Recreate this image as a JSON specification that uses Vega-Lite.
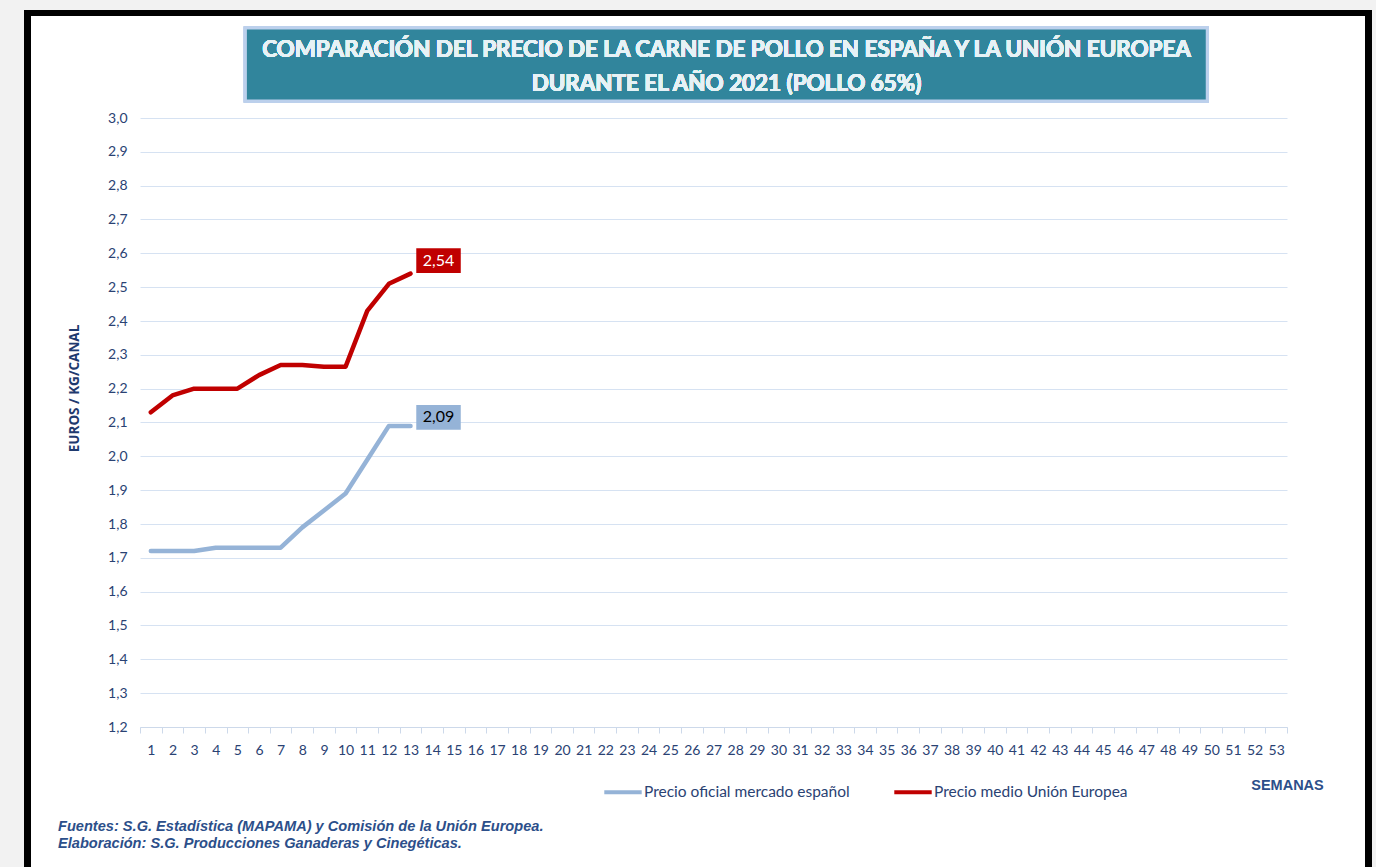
{
  "$schema": "https://vega.github.io/schema/vega-lite/v6.json",
  "width": 1147,
  "height": 609,
  "autosize": {"type": "none"},
  "padding": {"left": 140, "top": 118, "right": 89, "bottom": 140},
  "background": "white",
  "config": {
    "locale": {"number": {"decimal": ",", "thousands": ".", "grouping": [3], "currency": ["", " €"]}},
    "view": {"stroke": null},
    "font": "Lato"
  },
  "title": {
    "text": ["Fuentes: S.G. Estadística (MAPAMA) y Comisión de la Unión Europea.", "Elaboración: S.G. Producciones Ganaderas y Cinegéticas."],
    "orient": "bottom",
    "anchor": "start",
    "frame": "group",
    "dx": -82,
    "dy": -111,
    "offset": 20,
    "font": "Liberation Sans",
    "fontSize": 14.6,
    "fontStyle": "italic",
    "fontWeight": "bold",
    "color": "#2c4f8a",
    "lineHeight": 17
  },
  "data": {
    "values": [
      {"semana": 1, "serie": "Precio oficial mercado español", "precio": 1.72},
      {"semana": 2, "serie": "Precio oficial mercado español", "precio": 1.72},
      {"semana": 3, "serie": "Precio oficial mercado español", "precio": 1.72},
      {"semana": 4, "serie": "Precio oficial mercado español", "precio": 1.73},
      {"semana": 5, "serie": "Precio oficial mercado español", "precio": 1.73},
      {"semana": 6, "serie": "Precio oficial mercado español", "precio": 1.73},
      {"semana": 7, "serie": "Precio oficial mercado español", "precio": 1.73},
      {"semana": 8, "serie": "Precio oficial mercado español", "precio": 1.79},
      {"semana": 9, "serie": "Precio oficial mercado español", "precio": 1.84},
      {"semana": 10, "serie": "Precio oficial mercado español", "precio": 1.89},
      {"semana": 11, "serie": "Precio oficial mercado español", "precio": 1.99},
      {"semana": 12, "serie": "Precio oficial mercado español", "precio": 2.09},
      {"semana": 13, "serie": "Precio oficial mercado español", "precio": 2.09},
      {"semana": 1, "serie": "Precio medio Unión Europea", "precio": 2.13},
      {"semana": 2, "serie": "Precio medio Unión Europea", "precio": 2.18},
      {"semana": 3, "serie": "Precio medio Unión Europea", "precio": 2.2},
      {"semana": 4, "serie": "Precio medio Unión Europea", "precio": 2.2},
      {"semana": 5, "serie": "Precio medio Unión Europea", "precio": 2.2},
      {"semana": 6, "serie": "Precio medio Unión Europea", "precio": 2.24},
      {"semana": 7, "serie": "Precio medio Unión Europea", "precio": 2.27},
      {"semana": 8, "serie": "Precio medio Unión Europea", "precio": 2.27},
      {"semana": 9, "serie": "Precio medio Unión Europea", "precio": 2.265},
      {"semana": 10, "serie": "Precio medio Unión Europea", "precio": 2.265},
      {"semana": 11, "serie": "Precio medio Unión Europea", "precio": 2.43},
      {"semana": 12, "serie": "Precio medio Unión Europea", "precio": 2.51},
      {"semana": 13, "serie": "Precio medio Unión Europea", "precio": 2.54}
    ]
  },
  "encoding": {
    "x": {
      "field": "semana",
      "type": "ordinal",
      "scale": {"domain": [1,2,3,4,5,6,7,8,9,10,11,12,13,14,15,16,17,18,19,20,21,22,23,24,25,26,27,28,29,30,31,32,33,34,35,36,37,38,39,40,41,42,43,44,45,46,47,48,49,50,51,52,53], "paddingInner": 0, "paddingOuter": 0},
      "axis": {
        "title": "SEMANAS",
        "titleFont": "Liberation Sans",
        "titleFontSize": 14.5,
        "titleFontWeight": "bold",
        "titleColor": "#2c4f8a",
        "titleAnchor": "end",
        "titleAlign": "center",
        "titlePadding": 21,
        "labelAngle": 0,
        "labelFontSize": 14,
        "labelColor": "#2a4273",
        "labelPadding": 10,
        "tickBand": "extent",
        "tickSize": 6,
        "tickColor": "#cdd9ea",
        "domainColor": "#cdd9ea",
        "grid": false
      }
    },
    "y": {
      "field": "precio",
      "type": "quantitative",
      "scale": {"domain": [1.2, 3.0], "nice": false, "zero": false},
      "axis": {
        "title": "EUROS / KG/CANAL",
        "titleFont": "Open Sans",
        "titleFontSize": 13.5,
        "titleFontWeight": "bold",
        "titleColor": "#1f3a6e",
        "titlePadding": 26,
        "titleY": 270,
        "values": [1.2,1.3,1.4,1.5,1.6,1.7,1.8,1.9,2.0,2.1,2.2,2.3,2.4,2.5,2.6,2.7,2.8,2.9,3.0],
        "format": ".1f",
        "labelFontSize": 14,
        "labelColor": "#2a4273",
        "labelPadding": 13,
        "ticks": false,
        "domain": false,
        "grid": true,
        "gridColor": "#d6e2f2",
        "gridWidth": 1
      }
    }
  },
  "layer": [
    {
      "mark": {"type": "rect", "fill": null, "stroke": "#f2f2f2", "strokeWidth": 40, "xOffset": -146, "x2Offset": 115, "yOffset": -128, "y2Offset": 163},
      "encoding": {
        "x": {"datum": 1},
        "x2": {"datum": 53},
        "y": {"datum": 3.0},
        "y2": {"datum": 1.2}
      }
    },
    {
      "mark": {"type": "rect", "fill": null, "stroke": "black", "strokeWidth": 6, "xOffset": -123, "x2Offset": 92, "yOffset": -105, "y2Offset": 152},
      "encoding": {
        "x": {"datum": 1},
        "x2": {"datum": 53},
        "y": {"datum": 3.0},
        "y2": {"datum": 1.2}
      }
    },
    {
      "mark": {"type": "rect", "fill": "#31859c", "stroke": "#bcd0ec", "strokeWidth": 3, "xOffset": 8, "x2Offset": -4},
      "encoding": {
        "x": {"datum": 5},
        "x2": {"datum": 50},
        "y": {"datum": 3.266},
        "y2": {"datum": 3.05}
      }
    },
    {
      "mark": {"type": "text", "text": ["COMPARACIÓN DEL PRECIO DE LA CARNE DE POLLO EN ESPAÑA Y LA UNIÓN EUROPEA", "DURANTE EL AÑO 2021 (POLLO 65%)"], "font": "Lato", "fontWeight": "bold", "fontSize": 22.4, "color": "#e6f2f6", "lineHeight": 34, "baseline": "middle", "align": "center", "dx": 13},
      "encoding": {
        "x": {"datum": 27},
        "y": {"datum": 3.201}
      }
    },
    {
      "mark": {"type": "line", "strokeWidth": 4.5, "strokeJoin": "round", "strokeCap": "round"},
      "encoding": {
        "color": {
          "field": "serie",
          "type": "nominal",
          "scale": {"domain": ["Precio oficial mercado español", "Precio medio Unión Europea"], "range": ["#95b3d7", "#c00000"]},
          "legend": {
            "title": null,
            "orient": "none",
            "direction": "horizontal",
            "legendX": 462,
            "legendY": 653,
            "symbolType": "stroke",
            "symbolSize": 1400,
            "symbolStrokeWidth": 4,
            "labelFontSize": 15.5,
            "labelLimit": 400,
            "labelColor": "#2a4273",
            "labelOffset": 0,
            "columnPadding": 36
          }
        }
      }
    },
    {
      "transform": [{"filter": "datum.semana == 13 && datum.serie === 'Precio medio Unión Europea'"}],
      "mark": {"type": "point", "shape": "M-1,-0.56H1V0.56H-1Z", "size": 1980, "filled": true, "opacity": 1, "strokeWidth": 0, "xOffset": 28, "yOffset": -13, "fill": "#c00000"},
      "encoding": {}
    },
    {
      "transform": [{"filter": "datum.semana == 13 && datum.serie === 'Precio oficial mercado español'"}],
      "mark": {"type": "point", "shape": "M-1,-0.56H1V0.56H-1Z", "size": 1980, "filled": true, "opacity": 1, "strokeWidth": 0, "xOffset": 28, "yOffset": -8.5, "fill": "#95b3d7"},
      "encoding": {}
    },
    {
      "transform": [{"filter": "datum.semana == 13 && datum.serie === 'Precio medio Unión Europea'"}],
      "mark": {"type": "text", "fontSize": 16, "font": "Lato", "dx": 28, "dy": -13, "baseline": "middle", "align": "center", "color": "white"},
      "encoding": {
        "text": {"field": "precio", "type": "quantitative", "format": ".2f"}
      }
    },
    {
      "transform": [{"filter": "datum.semana == 13 && datum.serie === 'Precio oficial mercado español'"}],
      "mark": {"type": "text", "fontSize": 16, "font": "Lato", "dx": 28, "dy": -8.5, "baseline": "middle", "align": "center", "color": "black"},
      "encoding": {
        "text": {"field": "precio", "type": "quantitative", "format": ".2f"}
      }
    }
  ]
}
